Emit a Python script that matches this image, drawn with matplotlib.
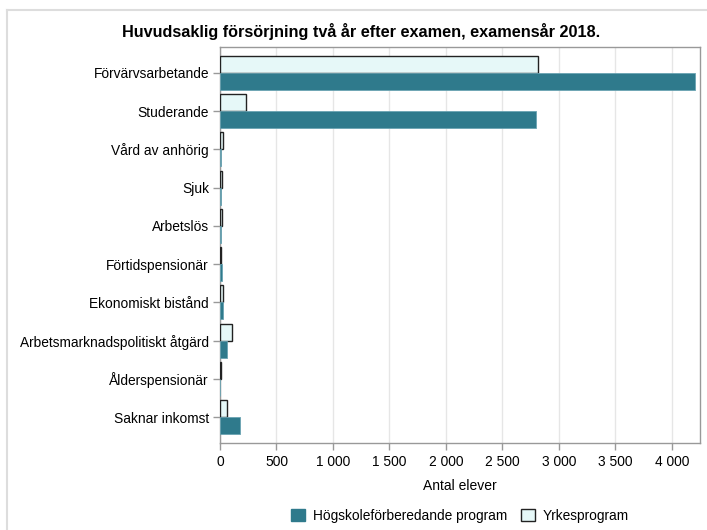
import matplotlib
matplotlib.use("Agg")
import matplotlib.pyplot as plt
from matplotlib.patches import Patch
from matplotlib.ticker import FuncFormatter, MultipleLocator

plt.rcParams['font.family'] = ['Liberation Sans', 'DejaVu Sans']

categories = ["Förvärvsarbetande", "Studerande", "Vård av anhörig", "Sjuk", "Arbetslös",
              "Förtidspensionär", "Ekonomiskt bistånd", "Arbetsmarknadspolitiskt åtgärd",
              "Ålderspensionär", "Saknar inkomst"]
hog = [4206, 2800, 10, 10, 8, 15, 25, 58, 3, 180]
yrkes = [2817, 233, 30, 20, 15, 10, 30, 105, 5, 66]
series_names = ["Högskoleförberedande program", "Yrkesprogram"]
title = "Huvudsaklig försörjning två år efter examen, examensår 2018."
xlabel = "Antal elever"

hog_color = "#2F7A8C"
yrk_color = "#E6F8F8"

W, H = 707, 530
fig = plt.figure(figsize=(W/100, H/100), dpi=100)
ax = fig.add_axes([220/W, 1-443/H, 480/W, 396/H])

n = len(categories)
pos = list(range(n))
bh = 0.445
ax.barh([p - bh/2 for p in pos], yrkes, height=bh, color=yrk_color, edgecolor="#222222", linewidth=1.0, zorder=3)
ax.barh([p + bh/2 for p in pos], hog, height=bh, color=hog_color, edgecolor="#6aa3b2", linewidth=0.6, zorder=3)

pad = 0.68
ax.set_ylim(n - 1 + pad, -pad)
ax.set_xlim(0, 4250)
ax.set_yticks(pos)
ax.set_yticklabels(categories, fontsize=9.9)
ax.xaxis.set_major_locator(MultipleLocator(500))
ax.xaxis.set_major_formatter(FuncFormatter(lambda v, p: f"{int(v):,}".replace(",", " ")))
ax.tick_params(axis='x', labelsize=9.9, colors="#999999", labelcolor="black", length=5, width=1, pad=4)
ax.tick_params(axis='y', colors="#999999", labelcolor="black", length=5, width=1, pad=3)
ax.grid(axis='x', color="#e6e6e6", linewidth=1, zorder=0)
for s in ax.spines.values():
    s.set_color("#999999")
    s.set_linewidth(1)
ax.set_xlabel(xlabel, fontsize=10, labelpad=7)
fig.text(361/W, 1-32/H, title, ha='center', va='center', fontsize=11.7, fontweight='bold')

handles = [Patch(facecolor=hog_color, edgecolor=hog_color), Patch(facecolor=yrk_color, edgecolor="#222222")]
fig.legend(handles, series_names, loc='center', bbox_to_anchor=(460/W, 1-516/H), ncol=2,
           frameon=False, fontsize=9.9, handlelength=1.0, handleheight=1.0, columnspacing=1.0, handletextpad=0.6)

# outer frame lines
fig.add_artist(plt.Line2D([7/W, 7/W], [0, 1-10/H], color="#dddddd", linewidth=1.5, transform=fig.transFigure))
fig.add_artist(plt.Line2D([7/W, 1], [1-10/H, 1-10/H], color="#dddddd", linewidth=1.5, transform=fig.transFigure))

fig.savefig("out.png", dpi=100)
